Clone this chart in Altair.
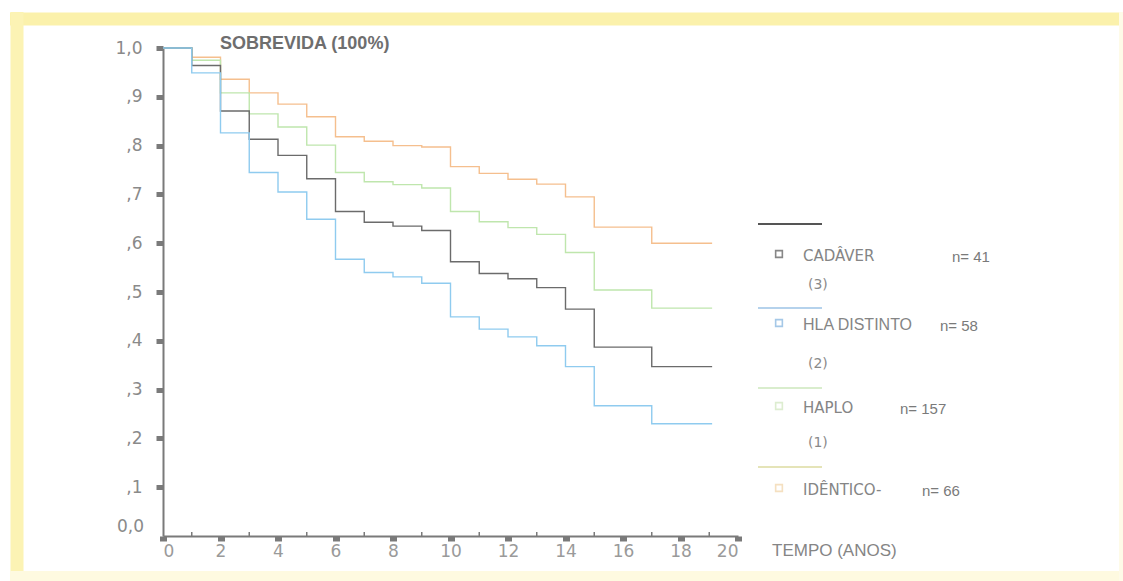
import altair as alt
import pandas as pd

# Kaplan-Meier style survival steps, by donor type (years since transplant)
years = [0, 1, 2, 3, 4, 5, 6, 7, 8, 9, 10, 11, 12, 13, 14, 15, 17, 19.1]
identico = [1.0, 0.981, 0.936, 0.908, 0.885, 0.859, 0.818, 0.809, 0.800, 0.797,
            0.757, 0.743, 0.731, 0.721, 0.695, 0.633, 0.600, 0.600]
haplo = [1.0, 0.975, 0.908, 0.865, 0.838, 0.801, 0.745, 0.726, 0.720, 0.713,
         0.665, 0.644, 0.632, 0.618, 0.581, 0.504, 0.467, 0.467]
cadaver = [1.0, 0.964, 0.871, 0.813, 0.780, 0.732, 0.665, 0.643, 0.635, 0.626,
           0.562, 0.538, 0.527, 0.509, 0.465, 0.387, 0.347, 0.347]
hla_distinto = [1.0, 0.949, 0.826, 0.745, 0.705, 0.649, 0.567, 0.540, 0.531, 0.518,
                0.449, 0.424, 0.408, 0.390, 0.347, 0.267, 0.230, 0.230]

groups = ["IDÊNTICO", "HAPLO", "CADÂVER", "HLA DISTINTO"]
series = [identico, haplo, cadaver, hla_distinto]
line_colors = ["#f5bf8e", "#bfe6ad", "#6b6b6b", "#8fcbef"]
line_widths = [1.4, 1.4, 2.6, 1.4]

x_ticks = list(range(0, 21, 2))
x_minor = list(range(1, 20, 2))
y_ticks = [0.1, 0.2, 0.3, 0.4, 0.5, 0.6, 0.7, 0.8, 0.9, 1.0]
y_tick_labels = ["0,0", ",1", ",2", ",3", ",4", ",5", ",6", ",7", ",8", ",9", "1,0"]

title_text = "SOBREVIDA (100%)"
x_title = "TEMPO (ANOS)"
legend_names = ["CADÂVER", "HLA DISTINTO", "HAPLO", "IDÊNTICO-"]
legend_counts = ["n= 41", "n= 58", "n= 157", "n= 66"]
legend_ranks = ["(3)", "(2)", "(1)"]

# plot-area origin inside the 1123 x 581 canvas
X0, Y0 = 163, 48
W, H = 575, 488


def px(x):
    return x - X0


def py(y):
    return y - Y0


rows = []
for g, vals in zip(groups, series):
    for t, s in zip(years, vals):
        rows.append({"t": t, "s": s, "grupo": g})
curves = pd.DataFrame(rows)

x_scale = alt.Scale(domain=[0, 20], nice=False, zero=False)
y_scale = alt.Scale(domain=[0, 1], nice=False)

label_expr = "[" + ",".join("'%s'" % s for s in y_tick_labels) + "][round(datum.value*10)]"

lines = alt.Chart(curves).mark_line(interpolate="step-after").encode(
    x=alt.X("t:Q", scale=x_scale,
            axis=alt.Axis(values=x_ticks, title=None, grid=False,
                          domainColor="#7a7a7a", domainWidth=2,
                          tickColor="#7a7a7a", tickSize=5, tickWidth=7,
                          labelFont="DejaVu Sans", labelFontSize=17,
                          labelColor="#9a9a9a", labelPadding=2)),
    y=alt.Y("s:Q", scale=y_scale,
            axis=alt.Axis(values=y_ticks, title=None, grid=False,
                          labelExpr=label_expr,
                          domainColor="#7a7a7a", domainWidth=2,
                          tickColor="#7a7a7a", tickSize=7, tickWidth=5,
                          labelFont="DejaVu Sans", labelFontSize=17,
                          labelColor="#8a8a8a", labelPadding=14)),
    color=alt.Color("grupo:N", scale=alt.Scale(domain=groups, range=line_colors), legend=None),
    strokeWidth=alt.StrokeWidth("grupo:N", scale=alt.Scale(domain=groups, range=line_widths), legend=None),
    order=alt.Order("t:Q"),
)

# small ticks at odd years on the time axis
minor = alt.Chart(pd.DataFrame({"t": x_minor})).mark_rule(color="#7a7a7a", strokeWidth=1.5).encode(
    x=alt.X("t:Q", scale=x_scale),
    y=alt.value(H - 4),
    y2=alt.value(H + 1),
)

zero_label = alt.Chart(pd.DataFrame({"s": [0.0], "txt": [y_tick_labels[0]]})).mark_text(
    align="right", baseline="middle", font="DejaVu Sans", fontSize=17, color="#8a8a8a", dy=-9
).encode(x=alt.value(px(144)), y=alt.Y("s:Q", scale=y_scale), text="txt:N")


def text(txt, x, y, size, color, font="DejaVu Sans", weight="normal", align="left"):
    return alt.Chart(pd.DataFrame({"txt": [txt]})).mark_text(
        align=align, baseline="middle", font=font, fontSize=size,
        fontWeight=weight, color=color
    ).encode(x=alt.value(px(x)), y=alt.value(py(y)), text="txt:N")


def hline(x1, x2, y, color, width):
    return alt.Chart(pd.DataFrame({"k": [0]})).mark_rule(color=color, strokeWidth=width).encode(
        x=alt.value(px(x1)), x2=alt.value(px(x2)), y=alt.value(py(y))
    )


def vline(x, y1, y2, color, width):
    return alt.Chart(pd.DataFrame({"k": [0]})).mark_rule(color=color, strokeWidth=width).encode(
        x=alt.value(px(x)), y=alt.value(py(y1)), y2=alt.value(py(y2))
    )


def square(x, y, color):
    return alt.Chart(pd.DataFrame({"k": [0]})).mark_point(
        shape="square", filled=False, size=45, strokeWidth=1.6, color=color
    ).encode(x=alt.value(px(x)), y=alt.value(py(y)))


# pale yellow frame around the figure
frame = [
    hline(10, 1123, 19, "#fbf1ab", 13),
    vline(17, 12, 581, "#fcf3b4", 13),
    hline(10, 1123, 576, "#fefae0", 10),
    vline(1121, 12, 581, "#fefbe8", 4),
]

legend_line_colors = ["#555555", "#9cc3e6", "#cde7bd", "#dcdba0"]
legend_square_colors = ["#555555", "#7fb2de", "#cfe6bd", "#f1d3a6"]
legend_line_y = [224, 308, 388, 467]
legend_text_y = [256, 325, 408, 490]
legend_count_x = [952, 940, 900, 922]
legend_rank_y = [285, 364, 443]
legend_name_fonts = [("DejaVu Sans", 15), ("Liberation Sans", 16),
                     ("DejaVu Sans", 15), ("DejaVu Sans", 15)]

legend = []
for i in range(4):
    legend.append(hline(758, 822, legend_line_y[i], legend_line_colors[i], 2 if i == 0 else 1.5))
    legend.append(square(779, legend_text_y[i] - 2, legend_square_colors[i]))
    f, s = legend_name_fonts[i]
    legend.append(text(legend_names[i], 803, legend_text_y[i], s, "#858585", font=f))
    legend.append(text(legend_counts[i], legend_count_x[i], legend_text_y[i] + 1, 15, "#7a7a7a",
                       font="Liberation Sans"))
    if i < 3:
        legend.append(text(legend_ranks[i], 808, legend_rank_y[i], 14, "#8a8a8a"))

title = text(title_text, 220, 44, 18, "#6e6e6e", font="Liberation Sans", weight="bold")
xlab = text(x_title, 772, 551, 17, "#858585", font="Liberation Sans")

chart = alt.layer(
    *frame, lines, minor, zero_label, title, xlab, *legend
).properties(
    width=W, height=H,
    padding={"left": X0, "top": Y0, "right": 1123 - X0 - W, "bottom": 581 - Y0 - H},
    autosize=alt.AutoSizeParams(type="none"),
    background="white",
).configure_view(stroke=None)

chart.save("out.html", embed_options={"renderer": "svg", "actions": False})
